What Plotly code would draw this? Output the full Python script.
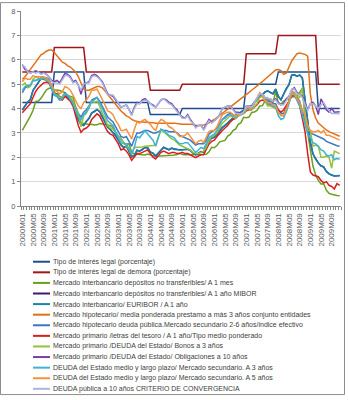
import plotly.graph_objects as go

years = list(range(2000, 2010))
months = [f"{y}M{m:02d}" for y in years for m in range(1, 13)]

legal = ([4.25]*12 + [5.50]*12 + [4.25]*12 + [4.25]*12 + [3.75]*12 + [4.00]*12 + [4.00]*12
         + [5.00]*12 + [5.50]*12 + [5.50, 5.50, 5.50] + [4.00]*9)
demora = ([5.50]*12 + [6.50]*12 + [5.50]*12 + [5.50]*12 + [4.75]*12 + [5.00]*12 + [5.00]*12
          + [6.25]*12 + [7.00]*12 + [7.00, 7.00, 7.00] + [5.00]*9)
mes1 = [3.10, 3.28, 3.51, 3.69, 3.92, 4.29, 4.31, 4.42, 4.59, 4.76, 4.83, 4.83,
        4.77, 4.76, 4.74, 4.69, 4.65, 4.54, 4.51, 4.46, 4.05, 3.72, 3.43, 3.38,
        3.35, 3.34, 3.35, 3.32, 3.33, 3.38, 3.36, 3.33, 3.32, 3.30, 3.23, 2.98,
        2.86, 2.77, 2.60, 2.54, 2.55, 2.21, 2.13, 2.12, 2.13, 2.10, 2.09, 2.13,
        2.08, 2.06, 2.04, 2.05, 2.06, 2.08, 2.08, 2.08, 2.08, 2.09, 2.11, 2.17,
        2.11, 2.10, 2.10, 2.10, 2.10, 2.10, 2.11, 2.11, 2.12, 2.12, 2.22, 2.41,
        2.39, 2.48, 2.63, 2.65, 2.69, 2.87, 2.94, 3.09, 3.16, 3.35, 3.42, 3.64,
        3.62, 3.65, 3.84, 3.86, 3.92, 4.10, 4.11, 4.31, 4.43, 4.24, 4.22, 4.71,
        4.20, 4.18, 4.30, 4.37, 4.39, 4.47, 4.47, 4.49, 4.66, 4.83, 3.70, 2.99,
        2.30, 1.63, 1.27, 1.05, 0.90, 0.91, 0.65, 0.52, 0.48, 0.44, 0.43, 0.42]
mibor = [3.94, 4.12, 4.26, 4.37, 4.74, 4.91, 5.07, 5.23, 5.23, 5.25, 5.18, 4.89,
         4.57, 4.60, 4.46, 4.49, 4.62, 4.46, 4.38, 4.21, 3.87, 3.54, 3.34, 3.31,
         3.47, 3.60, 3.81, 3.87, 3.95, 3.88, 3.63, 3.45, 3.23, 3.14, 3.01, 2.88,
         2.70, 2.51, 2.40, 2.46, 2.24, 2.02, 2.07, 2.29, 2.25, 2.31, 2.40, 2.39,
         2.21, 2.17, 2.05, 2.17, 2.29, 2.41, 2.35, 2.31, 2.37, 2.33, 2.32, 2.31,
         2.30, 2.32, 2.33, 2.28, 2.18, 2.11, 2.16, 2.23, 2.21, 2.42, 2.67, 2.79,
         2.82, 2.92, 3.10, 3.23, 3.30, 3.41, 3.53, 3.63, 3.71, 3.81, 3.85, 3.93,
         4.05, 4.10, 4.10, 4.26, 4.36, 4.52, 4.55, 4.68, 4.72, 4.66, 4.60, 4.80,
         4.49, 4.36, 4.58, 4.83, 4.98, 5.37, 5.38, 5.33, 5.37, 5.26, 4.34, 3.46,
         2.63, 2.13, 1.92, 1.76, 1.65, 1.60, 1.42, 1.32, 1.27, 1.23, 1.24, 1.25]
euribor = [3.95, 4.11, 4.27, 4.36, 4.75, 4.90, 5.08, 5.24, 5.22, 5.26, 5.19, 4.88,
           4.58, 4.59, 4.47, 4.48, 4.63, 4.45, 4.39, 4.20, 3.88, 3.53, 3.35, 3.30,
           3.48, 3.59, 3.82, 3.86, 3.96, 3.87, 3.64, 3.44, 3.24, 3.13, 3.02, 2.87,
           2.71, 2.50, 2.41, 2.45, 2.25, 2.01, 2.08, 2.28, 2.26, 2.30, 2.41, 2.38,
           2.22, 2.16, 2.06, 2.16, 2.30, 2.40, 2.36, 2.30, 2.38, 2.32, 2.33, 2.30,
           2.31, 2.31, 2.34, 2.27, 2.19, 2.10, 2.17, 2.22, 2.22, 2.41, 2.68, 2.78,
           2.83, 2.91, 3.11, 3.22, 3.31, 3.40, 3.54, 3.62, 3.72, 3.80, 3.86, 3.92,
           4.06, 4.09, 4.11, 4.25, 4.37, 4.51, 4.56, 4.67, 4.73, 4.65, 4.61, 4.79,
           4.50, 4.35, 4.59, 4.82, 4.99, 5.36, 5.39, 5.32, 5.38, 5.25, 4.35, 3.45,
           2.62, 2.14, 1.91, 1.77, 1.64, 1.61, 1.41, 1.33, 1.26, 1.24, 1.23, 1.24]
hipo_media = [5.20, 5.30, 5.45, 5.60, 5.75, 5.95, 6.05, 6.20, 6.26, 6.35, 6.40, 6.40,
              6.30, 6.15, 6.00, 5.90, 5.85, 5.75, 5.70, 5.60, 5.50, 5.30, 5.05, 4.80,
              4.75, 4.75, 4.80, 4.85, 4.90, 4.90, 4.85, 4.72, 4.58, 4.45, 4.30, 4.15,
              4.00, 3.90, 3.80, 3.70, 3.65, 3.55, 3.50, 3.47, 3.45, 3.45, 3.45, 3.45,
              3.45, 3.42, 3.40, 3.40, 3.42, 3.42, 3.40, 3.40, 3.40, 3.40, 3.38, 3.35,
              3.35, 3.35, 3.36, 3.35, 3.34, 3.30, 3.30, 3.30, 3.32, 3.35, 3.40, 3.48,
              3.55, 3.63, 3.72, 3.80, 3.90, 3.98, 4.06, 4.15, 4.23, 4.32, 4.40, 4.50,
              4.58, 4.66, 4.75, 4.83, 4.92, 5.00, 5.10, 5.20, 5.30, 5.40, 5.50, 5.58,
              5.60, 5.55, 5.40, 5.45, 5.70, 5.95, 6.10, 6.25, 6.28, 6.25, 6.22, 6.15,
              4.60, 3.95, 3.60, 3.40, 3.30, 3.20, 3.12, 3.05, 3.00, 2.95, 2.90, 2.86]
hipo_deuda = [4.65, 4.85, 4.90, 4.95, 5.15, 5.15, 5.20, 5.20, 5.20, 5.15, 5.05, 4.80,
              4.55, 4.50, 4.35, 4.40, 4.60, 4.55, 4.40, 4.20, 4.05, 3.80, 3.65, 3.85,
              3.95, 4.10, 4.35, 4.40, 4.45, 4.30, 4.10, 3.85, 3.65, 3.55, 3.45, 3.25,
              3.05, 2.85, 2.80, 2.85, 2.65, 2.45, 2.75, 3.00, 3.00, 3.05, 3.10, 3.10,
              3.05, 3.00, 3.00, 3.05, 3.10, 3.10, 3.10, 3.05, 3.05, 3.05, 3.00, 2.90,
              2.85, 2.80, 2.75, 2.70, 2.60, 2.50, 2.55, 2.55, 2.55, 2.70, 2.95, 3.05,
              3.10, 3.20, 3.40, 3.55, 3.65, 3.75, 3.80, 3.75, 3.70, 3.75, 3.80, 3.85,
              4.00, 4.05, 4.05, 4.20, 4.35, 4.55, 4.55, 4.40, 4.30, 4.30, 4.20, 4.20,
              3.95, 3.80, 3.80, 4.05, 4.30, 4.70, 4.65, 4.45, 4.30, 3.90, 3.55, 3.10,
              3.00, 2.95, 2.90, 2.85, 2.80, 2.75, 2.65, 2.60, 2.55, 2.50, 2.47, 2.45]
letras = [3.83, 3.95, 4.10, 4.20, 4.45, 4.70, 4.85, 4.95, 5.05, 5.08, 5.05, 4.85,
          4.65, 4.50, 4.40, 4.35, 4.50, 4.40, 4.30, 4.10, 3.70, 3.30, 3.02, 3.15,
          3.20, 3.30, 3.55, 3.65, 3.78, 3.70, 3.45, 3.25, 3.05, 2.95, 2.90, 2.75,
          2.55, 2.30, 2.35, 2.25, 2.10, 1.87, 2.00, 2.15, 2.15, 2.20, 2.25, 2.30,
          2.15, 2.00, 1.93, 2.05, 2.20, 2.25, 2.20, 2.15, 2.20, 2.20, 2.15, 2.15,
          2.20, 2.15, 2.15, 2.10, 2.05, 1.98, 2.05, 2.10, 2.10, 2.30, 2.55, 2.65,
          2.70, 2.85, 3.00, 3.10, 3.20, 3.30, 3.45, 3.55, 3.60, 3.70, 3.75, 3.80,
          3.90, 3.95, 3.95, 4.05, 4.15, 4.30, 4.35, 4.30, 4.20, 4.15, 4.10, 4.05,
          3.95, 3.85, 3.95, 4.10, 4.30, 4.50, 4.55, 4.35, 4.10, 3.60, 3.05, 2.15,
          1.40, 1.27, 1.25, 1.20, 1.05, 0.95, 1.00, 0.85, 0.80, 0.70, 0.92, 0.85]
bonos3 = [4.95, 5.05, 4.85, 4.90, 5.20, 5.30, 5.25, 5.20, 5.25, 5.15, 5.10, 4.90,
          4.60, 4.55, 4.45, 4.50, 4.60, 4.55, 4.45, 4.30, 4.00, 3.80, 3.25, 3.70,
          3.80, 4.10, 4.30, 4.25, 4.30, 4.10, 3.80, 3.60, 3.30, 3.20, 3.15, 3.00,
          2.85, 2.70, 2.55, 2.45, 2.35, 2.10, 2.40, 2.40, 2.40, 2.42, 2.45, 2.45,
          2.45, 2.48, 2.50, 2.80, 3.15, 3.05, 2.95, 2.85, 2.75, 2.70, 2.60, 2.50,
          2.45, 2.40, 2.35, 2.30, 2.20, 2.15, 2.15, 2.20, 2.25, 2.40, 2.70, 2.85,
          2.90, 3.00, 3.20, 3.40, 3.50, 3.60, 3.70, 3.65, 3.60, 3.70, 3.75, 3.80,
          3.95, 4.00, 3.95, 4.10, 4.20, 4.45, 4.50, 4.30, 4.10, 4.10, 4.05, 4.00,
          3.80, 3.75, 3.70, 3.85, 4.20, 4.60, 4.65, 4.50, 4.45, 4.85, 3.60, 3.10,
          3.10, 2.45, 2.50, 2.45, 2.00, 2.00, 2.05, 2.00, 1.55, 2.25, 2.20, 2.15]
oblig10 = [5.80, 5.60, 5.55, 5.45, 5.50, 5.55, 5.50, 5.45, 5.50, 5.40, 5.30, 5.15,
           5.10, 5.15, 5.05, 5.25, 5.45, 5.40, 5.30, 5.10, 5.15, 4.95, 4.58, 5.00,
           5.05, 5.10, 5.35, 5.40, 5.35, 5.20, 5.10, 4.85, 4.60, 4.55, 4.50, 4.35,
           4.20, 4.05, 4.10, 4.15, 3.95, 3.75, 4.05, 4.25, 4.20, 4.35, 4.40, 4.30,
           4.20, 4.15, 4.05, 4.20, 4.35, 4.40, 4.35, 4.25, 4.20, 4.05, 3.95, 3.75,
           3.65, 3.60, 3.75, 3.55, 3.40, 3.25, 3.30, 3.30, 3.15, 3.35, 3.55, 3.45,
           3.50, 3.60, 3.75, 4.00, 4.05, 4.10, 4.10, 3.95, 3.85, 3.85, 3.75, 3.85,
           4.10, 4.10, 4.00, 4.25, 4.40, 4.60, 4.60, 4.45, 4.40, 4.40, 4.30, 4.40,
           4.25, 4.15, 4.20, 4.40, 4.50, 4.75, 4.85, 4.65, 4.60, 4.50, 4.25, 3.95,
           4.20, 4.25, 4.10, 3.75, 4.40, 4.20, 3.95, 3.85, 4.00, 3.85, 3.87, 3.87]
deuda3 = [4.75, 4.90, 4.95, 4.95, 5.15, 5.15, 5.20, 5.25, 5.25, 5.20, 5.10, 4.85,
          4.55, 4.50, 4.35, 4.40, 4.60, 4.55, 4.40, 4.20, 3.90, 3.65, 3.55, 3.75,
          3.85, 4.00, 4.30, 4.35, 4.45, 4.25, 4.00, 3.75, 3.50, 3.40, 3.30, 3.05,
          2.85, 2.60, 2.55, 2.55, 2.35, 2.15, 2.40, 2.85, 2.80, 2.95, 3.10, 2.95,
          2.80, 2.70, 2.45, 2.85, 3.15, 3.10, 3.00, 2.90, 2.85, 2.80, 2.65, 2.55,
          2.55, 2.60, 2.60, 2.45, 2.30, 2.20, 2.30, 2.40, 2.35, 2.55, 2.80, 2.90,
          2.95, 3.10, 3.35, 3.55, 3.60, 3.70, 3.75, 3.70, 3.65, 3.75, 3.80, 3.85,
          4.00, 4.05, 4.00, 4.20, 4.35, 4.60, 4.55, 4.35, 4.20, 4.20, 4.10, 4.05,
          3.70, 3.55, 3.60, 3.90, 4.20, 4.65, 4.55, 4.35, 4.10, 3.75, 3.40, 2.95,
          2.80, 2.60, 2.55, 2.45, 2.30, 2.25, 2.10, 2.05, 2.10, 1.90, 1.95, 1.92]
deuda5 = [5.10, 5.25, 5.20, 5.20, 5.35, 5.30, 5.30, 5.30, 5.30, 5.25, 5.15, 4.95,
          4.75, 4.70, 4.60, 4.70, 4.90, 4.85, 4.75, 4.55, 4.30, 4.10, 4.00, 4.25,
          4.35, 4.50, 4.75, 4.75, 4.80, 4.60, 4.40, 4.15, 3.90, 3.85, 3.75, 3.50,
          3.35, 3.10, 3.10, 3.15, 2.95, 2.75, 3.15, 3.45, 3.40, 3.50, 3.55, 3.45,
          3.35, 3.20, 3.10, 3.40, 3.55, 3.50, 3.40, 3.25, 3.20, 3.10, 2.95, 2.85,
          2.85, 2.90, 3.00, 2.85, 2.65, 2.55, 2.65, 2.70, 2.60, 2.85, 3.05, 3.10,
          3.10, 3.25, 3.50, 3.75, 3.80, 3.85, 3.85, 3.75, 3.70, 3.75, 3.75, 3.85,
          4.05, 4.05, 4.00, 4.20, 4.40, 4.65, 4.55, 4.35, 4.25, 4.25, 4.15, 4.10,
          3.85, 3.70, 3.70, 4.00, 4.30, 4.70, 4.60, 4.40, 4.25, 3.90, 3.75, 3.30,
          3.10, 3.05, 3.05, 3.10, 3.00, 3.10, 2.90, 2.90, 2.85, 2.80, 2.75, 2.70]
convergencia = [5.78, 5.70, 5.50, 5.45, 5.50, 5.45, 5.50, 5.40, 5.45, 5.40, 5.30, 5.10,
                5.05, 5.05, 5.00, 5.15, 5.35, 5.35, 5.25, 5.05, 5.10, 4.95, 4.75, 5.00,
                5.05, 5.05, 5.30, 5.35, 5.30, 5.20, 5.05, 4.80, 4.55, 4.55, 4.55, 4.40,
                4.20, 4.05, 4.10, 4.15, 3.95, 3.70, 4.00, 4.20, 4.20, 4.30, 4.35, 4.30,
                4.20, 4.10, 4.05, 4.20, 4.35, 4.40, 4.30, 4.20, 4.15, 4.00, 3.90, 3.70,
                3.60, 3.60, 3.70, 3.50, 3.40, 3.20, 3.30, 3.30, 3.10, 3.30, 3.50, 3.40,
                3.50, 3.60, 3.75, 4.00, 4.05, 4.10, 4.10, 3.95, 3.80, 3.80, 3.75, 3.85,
                4.10, 4.10, 4.05, 4.25, 4.40, 4.60, 4.60, 4.45, 4.40, 4.40, 4.30, 4.35,
                4.20, 4.15, 4.15, 4.35, 4.50, 4.80, 4.80, 4.60, 4.60, 4.45, 4.20, 3.90,
                4.20, 4.20, 4.10, 4.00, 4.15, 4.25, 4.05, 3.90, 3.80, 3.80, 3.80, 3.78]

names = [
    "Tipo de interés legal (porcentaje)",
    "Tipo de interés legal de demora (porcentaje)",
    "Mercado interbancario depósitos no transferibles/ A 1 mes",
    "Mercado interbancario depósitos no transferibles/ A 1 año MIBOR",
    "Mercado interbancario/ EURIBOR / A 1 año",
    "Mercado hipotecario/ media ponderada prestamo a más 3 años conjunto entidades",
    "Mercado hipotecario deuda pública.Mercado secundario 2-6 años/indice efectivo",
    "Mercado primario /letras del tesoro / A 1 año/Tipo medio ponderado",
    "Mercado primario /DEUDA del Estado/ Bonos a 3 años",
    "Mercado primario /DEUDA del Estado/ Obligaciones a 10 años",
    "DEUDA del Estado medio y largo plazo/ Mercado secundario. A 3 años",
    "DEUDA del Estado medio y largo plazo/ Mercado secundario. A 5 años",
    "DEUDA pública a 10 años CRITERIO DE CONVERGENCIA",
]
series = [legal, demora, mes1, mibor, euribor, hipo_media, hipo_deuda, letras,
          bonos3, oblig10, deuda3, deuda5, convergencia]
colors = ["#1F4E8F", "#A0161C", "#6B9E1F", "#3D1A78", "#1B84A6", "#E0701A", "#3A78C0",
          "#D81E1E", "#92C13C", "#7B3FA8", "#3FB3D6", "#F7913D", "#A8B6E0"]

W, H = 348, 400
L, R, T, B = 21, 7, 9, 194
pw, ph = W - L - R, H - T - B

def px(x):
    return (x - L) / pw

def py(y):
    return (H - B - y) / ph

fig = go.Figure()
for name, vals, col in zip(names, series, colors):
    fig.add_trace(go.Scatter(x=months, y=vals, mode="lines", name=name,
                             line=dict(color=col, width=1.5), showlegend=False))

ticktext = [m if i % 4 == 0 else "" for i, m in enumerate(months)]

shapes = []
annotations = []
for i, (name, col) in enumerate(zip(names, colors)):
    yy = 262.3 + 10.7 * i
    shapes.append(dict(type="line", xref="paper", yref="paper",
                       x0=px(33), x1=px(50), y0=py(yy), y1=py(yy),
                       line=dict(color=col, width=2)))
    annotations.append(dict(xref="paper", yref="paper", x=px(51), y=py(yy),
                            xanchor="left", yanchor="middle", showarrow=False,
                            text=name, font=dict(size=7, color="#404040",
                                                 family="Liberation Sans")))
shapes.append(dict(type="rect", xref="paper", yref="paper",
                   x0=px(0.5), x1=px(344.5), y0=py(396.5), y1=py(0.5),
                   line=dict(color="#8C8C8C", width=1)))

fig.update_layout(
    width=W, height=H, autosize=False,
    margin=dict(l=L, r=R, t=T, b=B),
    paper_bgcolor="white", plot_bgcolor="white",
    font=dict(family="Liberation Sans", size=7, color="#595959"),
    xaxis=dict(type="category", categoryorder="array", categoryarray=months,
               tickmode="array", tickvals=months, ticktext=ticktext,
               tickangle=-90, tickson="boundaries", ticks="outside", ticklen=3,
               tickcolor="#868686", showline=True, linecolor="#868686",
               showgrid=False, range=[-0.5, 119.5], ticklabelstandoff=3,
               tickfont=dict(size=8, color="#595959")),
    yaxis=dict(range=[0, 8], dtick=1, showgrid=True, gridcolor="#D9D9D9",
               showline=True, linecolor="#868686", ticks="outside", ticklen=3,
               tickcolor="#868686", zeroline=False,
               tickfont=dict(size=7.5, color="#595959")),
    shapes=shapes, annotations=annotations,
)

fig.write_html("out.html")
